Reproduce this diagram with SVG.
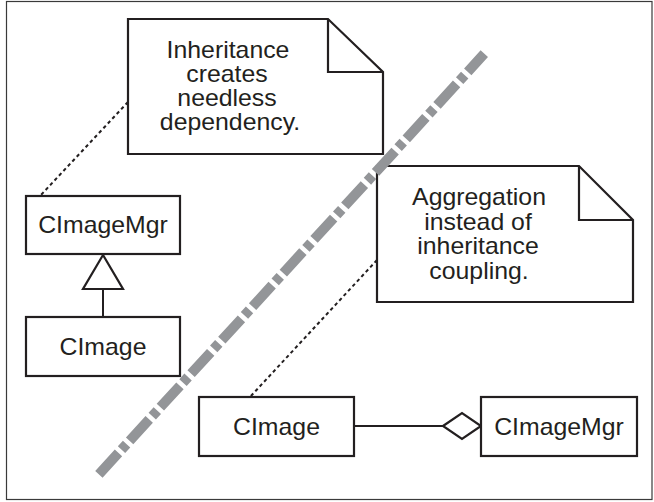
<svg xmlns="http://www.w3.org/2000/svg" width="654" height="502" viewBox="0 0 654 502">
<style>
.box{fill:#fff;stroke:#231f20;stroke-width:2.2}
.fold{fill:none;stroke:#231f20;stroke-width:2.2;stroke-linejoin:miter}
.t{font-family:"Liberation Sans",Arial,sans-serif;font-size:23px;fill:#231f20;text-anchor:middle}
.dot{fill:none;stroke:#231f20;stroke-width:2;stroke-dasharray:3.5 3}
.ln{fill:none;stroke:#231f20;stroke-width:2}
</style>
<rect x="6.5" y="1.5" width="645.5" height="498" fill="#fff" stroke="#3a3a3a" stroke-width="1.2"/>
<g id="connectors">
<line class="dot" x1="128" y1="102" x2="40" y2="196"/>
<line class="dot" x1="377" y1="260" x2="250" y2="397"/>
<line class="ln" x1="103" y1="289" x2="103" y2="317"/>
<polygon class="box" points="103,255 83,289 123,289"/>
<line class="ln" x1="354" y1="426" x2="443" y2="426"/>
<polygon class="box" points="443,426 462,413 481,426 462,439"/>
</g>
<g id="note1">
<path class="box" d="M128,19 H328 L383,72 V154 H128 Z"/>
<path class="fold" d="M328,19 V72 H383"/>
<text class="t" transform="translate(228,57.5) scale(1.08,1)">Inheritance</text>
<text class="t" transform="translate(227,81.5) scale(1.08,1)">creates</text>
<text class="t" transform="translate(227,105.5) scale(1.08,1)">needless</text>
<text class="t" transform="translate(230,129.5) scale(1.08,1)">dependency.</text>
</g>
<g id="note2">
<path class="box" d="M377,166 H579 L633,220 V302 H377 Z"/>
<path class="fold" d="M579,166 V220 H633"/>
<text class="t" transform="translate(479,205) scale(1.08,1)">Aggregation</text>
<text class="t" transform="translate(478,229.5) scale(1.08,1)">instead of</text>
<text class="t" transform="translate(478,254) scale(1.08,1)">inheritance</text>
<text class="t" transform="translate(479,278.5) scale(1.08,1)">coupling.</text>
</g>
<g id="cimagemgr-left">
<rect class="box" x="26" y="196" width="154" height="58"/>
<text class="t" transform="translate(103,233) scale(1.08,1)">CImageMgr</text>
</g>
<g id="cimage-left">
<rect class="box" x="26" y="317" width="154" height="59"/>
<text class="t" transform="translate(103,355) scale(1.08,1)">CImage</text>
</g>
<g id="cimage-bottom">
<rect class="box" x="199" y="397" width="155" height="59"/>
<text class="t" transform="translate(276.5,435) scale(1.08,1)">CImage</text>
</g>
<g id="cimagemgr-right">
<rect class="box" x="481" y="397" width="156" height="59"/>
<text class="t" transform="translate(559,434.5) scale(1.08,1)">CImageMgr</text>
</g>
<g id="separator">
<line x1="484.3" y1="53.7" x2="96.7" y2="476.7" stroke="#939598" stroke-width="10" stroke-dasharray="29 4.5 7.5 4.5" stroke-dashoffset="4.5"/>
</g>
</svg>
